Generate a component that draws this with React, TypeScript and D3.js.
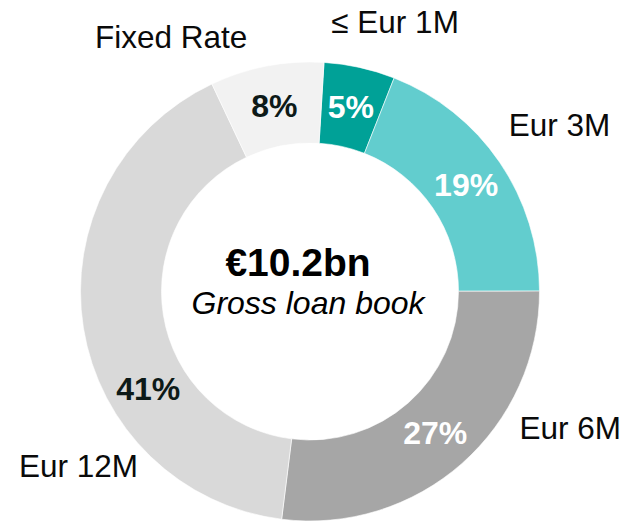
import React from "react";
import * as d3 from "d3";

const categories = ["≤ Eur 1M", "Eur 3M", "Eur 6M", "Eur 12M", "Fixed Rate"];
const shares = [5, 19, 27, 41, 8];
const percentLabels = ["5%", "19%", "27%", "41%", "8%"];
const centerTitle = "€10.2bn";
const centerSubtitle = "Gross loan book";

const sliceColors = ["#00A197", "#62CDCE", "#A6A6A6", "#D9D9D9", "#F2F2F2"];
const pctColors = ["#FFFFFF", "#FFFFFF", "#FFFFFF", "#0D1A18", "#0D1A18"];
// label layout (degrees clockwise from top, radius in px)
const outerLabelPos = [
  { a: 17.5, r: 283 },
  { a: 56.3, r: 300 },
  { a: 117.7, r: 294 },
  { a: 233, r: 290 },
  { a: 331.4, r: 290 },
];
const pctAngleShift = [0, 0, 0, -22, 0];

const W = 623;
const H = 522;
const cx = 302;
const cy = 283.5;
const R = 229.5;
const r0 = 148.5;
const rotation = 3.5;
const FONT = "'Liberation Sans', Arial, sans-serif";

export default function App() {
  const toRad = (d: number) => (d * Math.PI) / 180;
  const pie = d3
    .pie<number>()
    .sort(null)
    .startAngle(toRad(rotation))
    .endAngle(toRad(rotation + 360));
  const arcs = pie(shares);
  const arc = d3.arc<d3.PieArcDatum<number>>().innerRadius(r0).outerRadius(R);
  const labelR = (R + r0) / 2;

  return (
    <svg width={W} height={H} style={{ position: "absolute", left: 0, top: 0 }}>
      <rect width={W} height={H} fill="#fff" />
      <g transform={`translate(${cx + 8},${cy + 8})`}>
        {arcs.map((a, i) => (
          <path key={i} d={arc(a) || ""} fill={sliceColors[i]} stroke="#fff" strokeWidth={0.6} />
        ))}
        {arcs.map((a, i) => {
          const mid = (a.startAngle + a.endAngle) / 2 + toRad(pctAngleShift[i]);
          const x = labelR * Math.sin(mid);
          const y = -labelR * Math.cos(mid);
          return (
            <text
              key={"p" + i}
              x={x}
              y={y}
              textAnchor="middle"
              dominantBaseline="central"
              fontFamily={FONT}
              fontWeight="bold"
              fontSize={32}
              fill={pctColors[i]}
            >
              {percentLabels[i]}
            </text>
          );
        })}
        {categories.map((c, i) => {
          const p = outerLabelPos[i];
          const x = p.r * Math.sin(toRad(p.a));
          const y = -p.r * Math.cos(toRad(p.a));
          return (
            <text
              key={"c" + i}
              x={x}
              y={y}
              textAnchor="middle"
              dominantBaseline="central"
              fontFamily={FONT}
              fontSize={31.5}
              fill="#0a0a0a"
            >
              {c}
            </text>
          );
        })}
        <text
          x={-12}
          y={-29.5}
          textAnchor="middle"
          dominantBaseline="central"
          fontFamily={FONT}
          fontWeight="bold"
          fontSize={39}
          fill="#000"
        >
          {centerTitle}
        </text>
        <text
          x={-2}
          y={11}
          textAnchor="middle"
          dominantBaseline="central"
          fontFamily={FONT}
          fontStyle="italic"
          fontSize={32}
          fill="#000"
        >
          {centerSubtitle}
        </text>
      </g>
    </svg>
  );
}
